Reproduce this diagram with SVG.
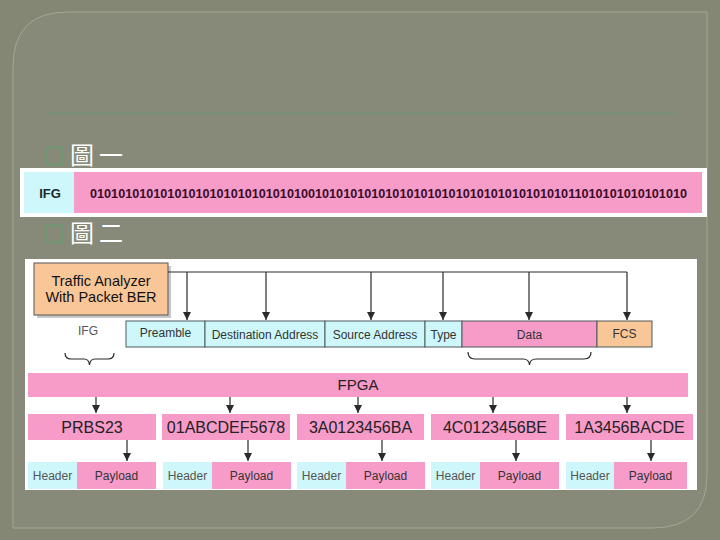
<svg xmlns="http://www.w3.org/2000/svg" width="720" height="540" viewBox="0 0 720 540">
<defs>
<marker id="arr" markerUnits="userSpaceOnUse" markerWidth="8" markerHeight="8" refX="8" refY="4" orient="auto" viewBox="0 0 8 8">
<path d="M0,0 L8,4 L0,8 Z" fill="#2a2a2a"/>
</marker>
<style>
.sans{font-family:"Liberation Sans",Arial,sans-serif}
.cjk{font-family:"Noto Sans CJK TC","Noto Sans CJK SC",sans-serif;fill:#ffffff}
.pink{fill:#f79bc9}
.cyan{fill:#cdf7fa}
.orange{fill:#f9c797}
.cell{stroke:#4f5a5c;stroke-width:1}
.conn{stroke:#2a2a2a;stroke-width:1.2;fill:none}
.lbl{font-size:12px;fill:#333;text-anchor:middle}
.hdr{font-size:12px;fill:#555;text-anchor:middle}
.big{font-size:16px;fill:#222;text-anchor:middle}
.bullet{fill:none;stroke:#6c9872;stroke-width:1.8}
</style>
</defs>
<rect x="0" y="0" width="720" height="540" fill="#858775"/>
<path d="M13,67 Q13,12 68,12 L707,12 L707,475 Q707,528 652,528 L13,528 Z" fill="#878a78" stroke="#a5a795" stroke-width="1"/>
<line x1="46" y1="113" x2="675" y2="113" stroke="#7a9076" stroke-width="2.5"/>

<g id="title1">
<rect class="bullet" x="46.5" y="147.5" width="16" height="17"/>
<text class="cjk" x="70" y="164" font-size="24">圖</text>
<text class="cjk" x="99" y="164" font-size="24">一</text>
</g>

<g id="figure1">
<rect x="20" y="168" width="687" height="49" fill="#ffffff"/>
<rect class="cyan" x="24" y="172" width="50" height="41"/>
<rect class="pink" x="74" y="172" width="628" height="41"/>
<text class="sans" x="50" y="198" font-size="13" font-weight="bold" fill="#1a2a2a" text-anchor="middle">IFG</text>
<text class="sans" x="90" y="198" font-size="12.6" font-weight="bold" fill="#3a0c2a" textLength="597" lengthAdjust="spacingAndGlyphs">0101010101010101010101010101010010101010101010101010101010101010101011010101010101010</text>
</g>

<g id="title2">
<rect class="bullet" x="46.5" y="225.5" width="16" height="17"/>
<text class="cjk" x="70" y="242" font-size="24">圖</text>
<text class="cjk" x="99" y="242" font-size="24">二</text>
</g>

<rect x="25" y="259" width="672" height="231" fill="#ffffff"/>

<g id="analyzer">
<rect x="37" y="266" width="134" height="52" fill="#c8c8c8"/>
<rect x="34" y="263" width="134" height="52" class="orange" stroke="#555" stroke-width="1"/>
<text class="sans" x="101" y="286" font-size="14.5" fill="#111" text-anchor="middle">Traffic Analyzer</text>
<text class="sans" x="101" y="302" font-size="14.5" fill="#111" text-anchor="middle">With Packet BER</text>
</g>

<g id="ifg-label">
<text class="sans hdr" x="88" y="335" font-size="12">IFG</text>
</g>

<g id="frame">
<rect class="cyan cell" x="126" y="321" width="79" height="26"/>
<text class="sans lbl" x="165.5" y="337">Preamble</text>
<rect class="cyan cell" x="205" y="321" width="120" height="26"/>
<text class="sans lbl" x="265" y="339">Destination Address</text>
<rect class="cyan cell" x="325" y="321" width="100" height="26"/>
<text class="sans lbl" x="375" y="339">Source Address</text>
<rect class="cyan cell" x="425" y="321" width="37" height="26"/>
<text class="sans lbl" x="443.5" y="339">Type</text>
<rect class="pink cell" x="462" y="321" width="135" height="26"/>
<text class="sans lbl" x="529.5" y="339">Data</text>
<rect class="orange cell" x="597" y="321" width="55" height="26"/>
<text class="sans lbl" x="624.5" y="338">FCS</text>
</g>

<g id="fpga">
<rect class="pink" x="28" y="373" width="660" height="24"/>
<text class="sans" x="358" y="390" font-size="15" fill="#222" text-anchor="middle">FPGA</text>
</g>

<g id="gen1">
<rect class="pink" x="28" y="414" width="128" height="26"/>
<text class="sans big" x="92" y="433">PRBS23</text>
</g>
<g id="gen2">
<rect class="pink" x="162" y="414" width="128" height="26"/>
<text class="sans big" x="226" y="433">01ABCDEF5678</text>
</g>
<g id="gen3">
<rect class="pink" x="297" y="414" width="127" height="26"/>
<text class="sans big" x="360.5" y="433">3A0123456BA</text>
</g>
<g id="gen4">
<rect class="pink" x="431" y="414" width="128" height="26"/>
<text class="sans big" x="495" y="433">4C0123456BE</text>
</g>
<g id="gen5">
<rect class="pink" x="566" y="414" width="127" height="26"/>
<text class="sans big" x="629.5" y="433">1A3456BACDE</text>
</g>

<g id="pkt1">
<rect class="cyan" x="28" y="462" width="49" height="27"/>
<text class="sans hdr" x="52.5" y="480">Header</text>
<rect class="pink" x="77" y="462" width="79" height="27"/>
<text class="sans lbl" x="116.5" y="480">Payload</text>
</g>
<g id="pkt2">
<rect class="cyan" x="163" y="462" width="49" height="27"/>
<text class="sans hdr" x="187.5" y="480">Header</text>
<rect class="pink" x="212" y="462" width="79" height="27"/>
<text class="sans lbl" x="251.5" y="480">Payload</text>
</g>
<g id="pkt3">
<rect class="cyan" x="297" y="462" width="49" height="27"/>
<text class="sans hdr" x="321.5" y="480">Header</text>
<rect class="pink" x="346" y="462" width="79" height="27"/>
<text class="sans lbl" x="385.5" y="480">Payload</text>
</g>
<g id="pkt4">
<rect class="cyan" x="431" y="462" width="49" height="27"/>
<text class="sans hdr" x="455.5" y="480">Header</text>
<rect class="pink" x="480" y="462" width="79" height="27"/>
<text class="sans lbl" x="519.5" y="480">Payload</text>
</g>
<g id="pkt5">
<rect class="cyan" x="566" y="462" width="48" height="27"/>
<text class="sans hdr" x="590" y="480">Header</text>
<rect class="pink" x="614" y="462" width="73" height="27"/>
<text class="sans lbl" x="650.5" y="480">Payload</text>
</g>

<g id="connectors">
<line class="conn" x1="168" y1="272" x2="627" y2="272"/>
<line class="conn" x1="187" y1="272" x2="187" y2="320" marker-end="url(#arr)"/>
<line class="conn" x1="266" y1="272" x2="266" y2="320" marker-end="url(#arr)"/>
<line class="conn" x1="371" y1="272" x2="371" y2="320" marker-end="url(#arr)"/>
<line class="conn" x1="443" y1="272" x2="443" y2="320" marker-end="url(#arr)"/>
<line class="conn" x1="529" y1="272" x2="529" y2="320" marker-end="url(#arr)"/>
<line class="conn" x1="627" y1="272" x2="627" y2="320" marker-end="url(#arr)"/>
<path class="conn" d="M65,353 q0,6 6,6 h13 q5,0 5.5,6 q0.5,-6 5.5,-6 h13 q6,0 6,-6"/>
<path class="conn" d="M468,352 q0,7 7,7 h48 q6,0 6.5,6 q0.5,-6 6.5,-6 h48 q7,0 7,-7"/>
<line class="conn" x1="96" y1="397" x2="96" y2="413" marker-end="url(#arr)"/>
<line class="conn" x1="230" y1="397" x2="230" y2="413" marker-end="url(#arr)"/>
<line class="conn" x1="358" y1="397" x2="358" y2="413" marker-end="url(#arr)"/>
<line class="conn" x1="493" y1="397" x2="493" y2="413" marker-end="url(#arr)"/>
<line class="conn" x1="627" y1="397" x2="627" y2="413" marker-end="url(#arr)"/>
<line class="conn" x1="127" y1="440" x2="127" y2="461" marker-end="url(#arr)"/>
<line class="conn" x1="248" y1="440" x2="248" y2="461" marker-end="url(#arr)"/>
<line class="conn" x1="382" y1="440" x2="382" y2="461" marker-end="url(#arr)"/>
<line class="conn" x1="516" y1="440" x2="516" y2="461" marker-end="url(#arr)"/>
<line class="conn" x1="651" y1="440" x2="651" y2="461" marker-end="url(#arr)"/>
</g>
</svg>
